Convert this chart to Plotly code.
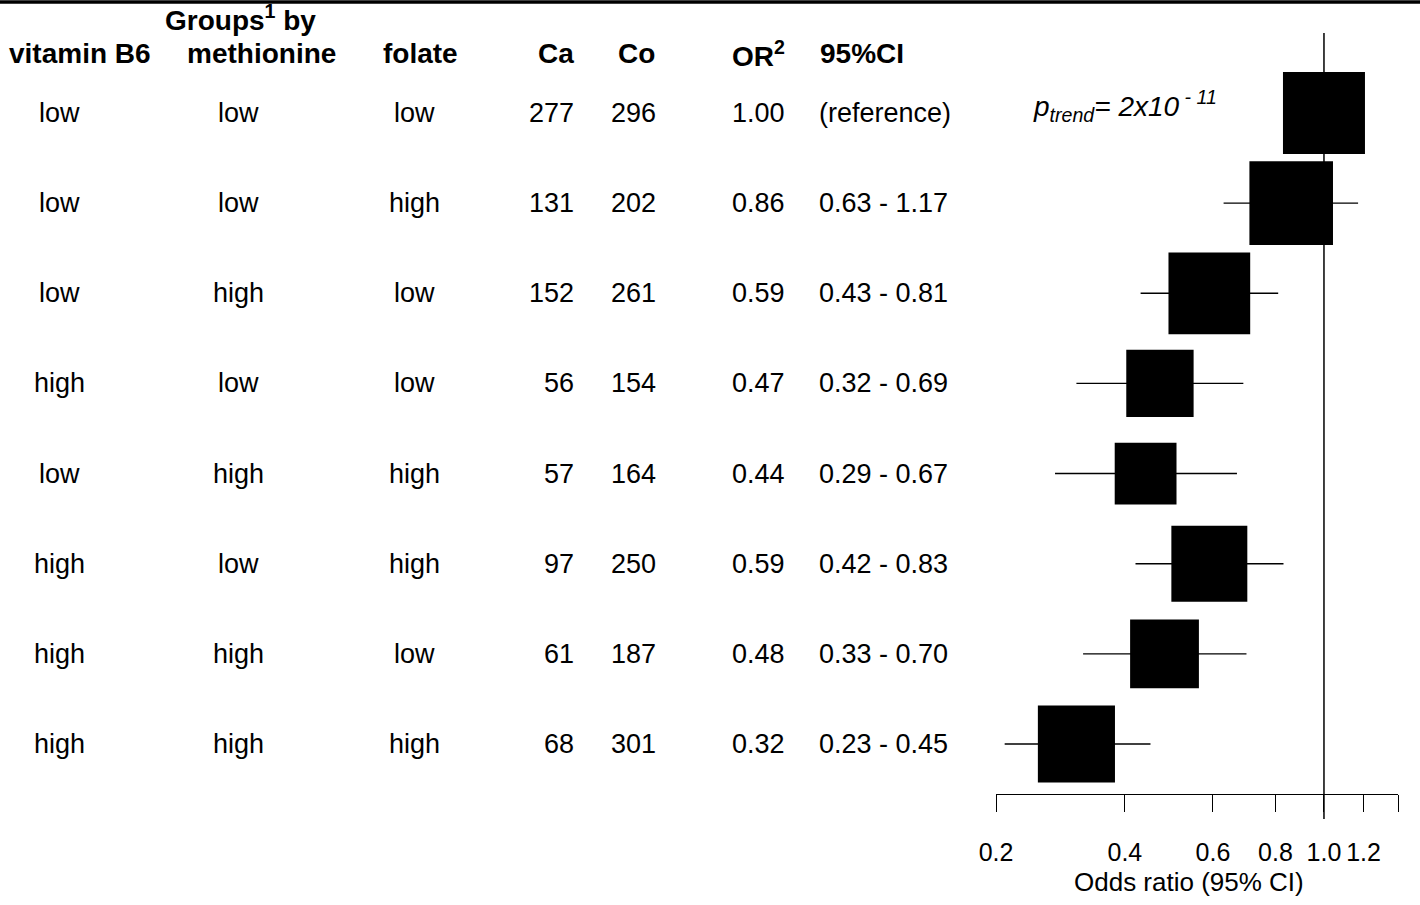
import math
import plotly.graph_objects as go

# ---------------- data ----------------
vitamin_b6 = ["low", "low", "low", "high", "low", "high", "high", "high"]
methionine = ["low", "low", "high", "low", "high", "low", "high", "high"]
folate = ["low", "high", "low", "low", "high", "high", "low", "high"]
cases = [277, 131, 152, 56, 57, 97, 61, 68]
controls = [296, 202, 261, 154, 164, 250, 187, 301]
odds_ratio = [1.00, 0.86, 0.59, 0.47, 0.44, 0.59, 0.48, 0.32]
ci_lower = [None, 0.63, 0.43, 0.32, 0.29, 0.42, 0.33, 0.23]
ci_upper = [None, 1.17, 0.81, 0.69, 0.67, 0.83, 0.70, 0.45]
tick_values = [0.221, 0.4, 0.6, 0.8, 1.0, 1.2, 1.406]
tick_labels = ["0.2", "0.4", "0.6", "0.8", "1.0", "1.2", ""]
p_trend_text = "<i>p</i><sub><i>trend</i></sub><i>= 2x10</i><sup><i> - 11</i></sup>"
REF_OR = 1.0

# ---------------- layout constants ----------------
W, H = 1420, 905
TOP, BOTTOM = 33, 794          # plot area in pixels
ROW0_PX, ROW_STEP = 113, 90.14
FONT = "Liberation Sans, Arial, Helvetica, sans-serif"
BODY = 27
HEAD = 28
BOX_SCALE = 13.2               # px per (1/SE)
REF_BOX = 82

rows = list(range(1, len(odds_ratio) + 1))
y_top = 1 + (TOP - ROW0_PX) / ROW_STEP
y_bot = 1 + (BOTTOM - ROW0_PX) / ROW_STEP


def py(px):  # pixel -> paper y
    return (BOTTOM - px) / (BOTTOM - TOP)


def pxr(px):  # pixel -> paper x
    return px / W


def ry(px):  # pixel -> row units
    return 1 + (px - ROW0_PX) / ROW_STEP


# box sizes from inverse standard error
sizes = []
for lo, hi in zip(ci_lower, ci_upper):
    if lo is None:
        sizes.append(REF_BOX)
    else:
        se = (math.log(hi) - math.log(lo)) / 3.92
        sizes.append(BOX_SCALE / se)

# CI segments
cx, cy = [], []
for r, lo, hi in zip(rows, ci_lower, ci_upper):
    if lo is None:
        continue
    cx += [lo, hi, None]
    cy += [r, r, None]

fig = go.Figure()
fig.add_trace(go.Scatter(x=cx, y=cy, mode="lines",
                         line=dict(color="black", width=1.4),
                         hoverinfo="skip", showlegend=False))
fig.add_trace(go.Scatter(x=odds_ratio, y=rows, mode="markers",
                         marker=dict(symbol="square", size=sizes, color="black",
                                     opacity=1, line=dict(width=0)),
                         showlegend=False))

ann = []


def add(text, xpx, y, anchor="center", size=BODY, yref="y"):
    ann.append(dict(text=text, x=pxr(xpx), xref="paper", y=y, yref=yref,
                    xanchor=anchor, yanchor="middle", showarrow=False,
                    font=dict(family=FONT, size=size, color="black")))


# headers
add("<b>Groups<sup>1</sup> by</b>", 240, py(18), size=HEAD, yref="paper")
add("<b>vitamin B6</b>", 80, py(54), size=HEAD, yref="paper")
add("<b>methionine</b>", 261, py(54), size=HEAD, yref="paper")
add("<b>folate</b>", 420, py(54), size=HEAD, yref="paper")
add("<b>Ca</b>", 576, py(54), anchor="right", size=HEAD, yref="paper")
add("<b>Co</b>", 636, py(54), size=HEAD, yref="paper")
add("<b>OR<sup>2</sup></b>", 730, py(54), anchor="left", size=HEAD, yref="paper")
add("<b>95%CI</b>", 818, py(54), anchor="left", size=HEAD, yref="paper")

# body
for i, r in enumerate(rows):
    add(vitamin_b6[i], 59, r)
    add(methionine[i], 238, r)
    add(folate[i], 414, r)
    add(str(cases[i]), 576, r, anchor="right")
    add(str(controls[i]), 609, r, anchor="left")
    add(f"{odds_ratio[i]:.2f}", 787, r, anchor="right")
    ci_txt = "(reference)" if ci_lower[i] is None else f"{ci_lower[i]:.2f} - {ci_upper[i]:.2f}"
    add(ci_txt, 817, r, anchor="left")

add(p_trend_text, 1031, ry(106), anchor="left", size=28)
add("Odds ratio (95% CI)", 1189, py(882), size=26, yref="paper")

fig.update_layout(
    width=W, height=H, autosize=False,
    margin=dict(l=0, r=0, t=TOP, b=H - BOTTOM, pad=0, autoexpand=False),
    paper_bgcolor="white", plot_bgcolor="white",
    annotations=ann,
    shapes=[
        dict(type="line", xref="x", x0=REF_OR, x1=REF_OR, yref="paper",
             y0=py(819), y1=1, line=dict(color="black", width=1.5), layer="below"),
        dict(type="line", xref="paper", x0=0, x1=1, yref="paper",
             y0=py(2), y1=py(2), line=dict(color="black", width=3.5)),
    ],
    xaxis=dict(type="log", domain=[996 / W, 1398 / W],
               range=[math.log10(tick_values[0]), math.log10(tick_values[-1])],
               automargin=False,
               showgrid=False, zeroline=False, showline=True,
               linecolor="black", linewidth=1.4,
               ticks="outside", ticklen=17, tickwidth=1.4, tickcolor="black",
               tickvals=tick_values, ticktext=tick_labels,
               tickfont=dict(family=FONT, size=25, color="black"),
               ticklabelstandoff=19),
    yaxis=dict(range=[y_bot, y_top], visible=False, showgrid=False,
               zeroline=False, automargin=False),
    font=dict(family=FONT, color="black"),
)

fig.write_html("out.html", config={"displayModeBar": False},
               post_script="document.body.style.margin='0px';document.body.style.overflow='hidden';")
